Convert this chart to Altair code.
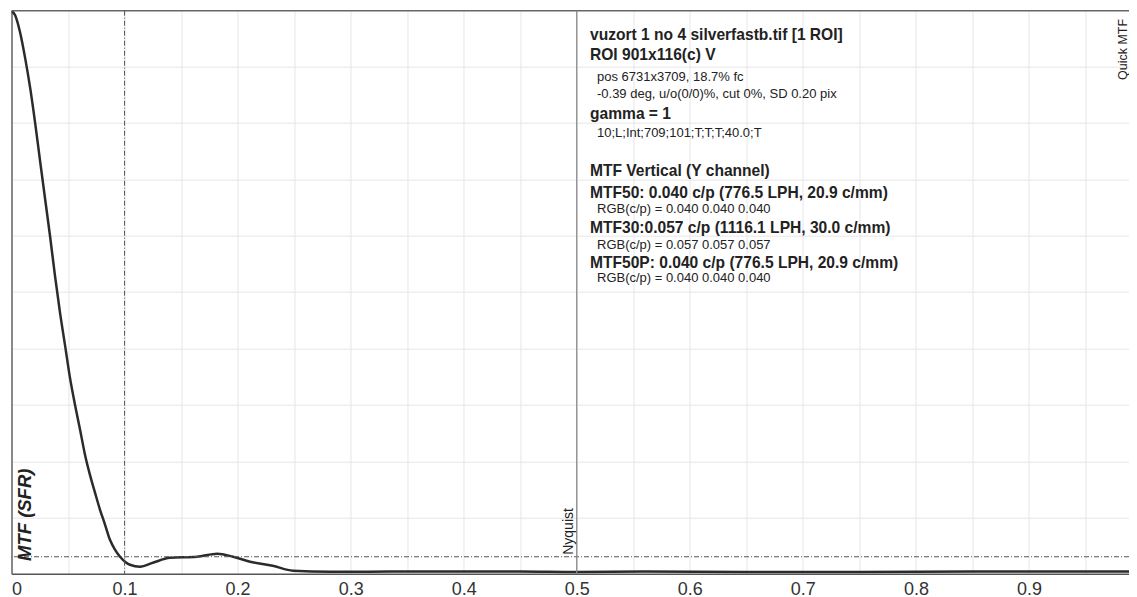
import altair as alt
import pandas as pd

# ---- data ----
freq = [0.0, 0.0031, 0.0075, 0.0119, 0.0164, 0.0208, 0.0252, 0.0296, 0.0341, 0.0385,
        0.0429, 0.0473, 0.0517, 0.0562, 0.0606, 0.0650, 0.0694, 0.0739, 0.0783, 0.0827,
        0.0871, 0.0915, 0.0960, 0.1004, 0.1048, 0.1137, 0.125, 0.140, 0.164, 0.182,
        0.196, 0.211, 0.231, 0.249, 0.282, 0.35, 0.45, 0.5, 0.56, 0.65, 0.75, 0.85, 1.0]
mtf = [1.0, 0.992, 0.961, 0.915, 0.860, 0.796, 0.726, 0.657, 0.587, 0.514,
       0.447, 0.388, 0.328, 0.278, 0.233, 0.187, 0.150, 0.117, 0.086, 0.059,
       0.031, 0.013, 0.0, -0.009, -0.0146, -0.0183, -0.011, -0.002, 0.0, 0.0055,
       0.0, -0.009, -0.0165, -0.0256, -0.0275, -0.027, -0.027, -0.028, -0.027, -0.028,
       -0.028, -0.027, -0.027]

x_grid = [0, 0.05, 0.1, 0.15, 0.2, 0.25, 0.3, 0.35, 0.4, 0.45, 0.5,
          0.55, 0.6, 0.65, 0.7, 0.75, 0.8, 0.85, 0.9, 0.95, 1.0]
y_grid = [0.897, 0.794, 0.691, 0.588, 0.485, 0.381, 0.278, 0.175, 0.072]

info_lines = [
    ("vuzort 1 no 4 silverfastb.tif [1 ROI]", "big"),
    ("ROI 901x116(c) V", "big"),
    ("pos 6731x3709, 18.7% fc", "small"),
    ("-0.39 deg, u/o(0/0)%, cut 0%, SD 0.20 pix", "small"),
    ("gamma = 1", "big"),
    ("10;L;Int;709;101;T;T;T;40.0;T", "small"),
    ("MTF Vertical (Y channel)", "big"),
    ("MTF50: 0.040 c/p (776.5 LPH, 20.9 c/mm)", "big"),
    ("RGB(c/p) = 0.040 0.040 0.040", "small"),
    ("MTF30:0.057 c/p (1116.1 LPH, 30.0 c/mm)", "big"),
    ("RGB(c/p) = 0.057 0.057 0.057", "small"),
    ("MTF50P: 0.040 c/p (776.5 LPH, 20.9 c/mm)", "big"),
    ("RGB(c/p) = 0.040 0.040 0.040", "small"),
]
# vertical centre of each info line (screen px, layout only)
info_y = [35, 55, 77, 94, 114, 133, 171, 193, 209, 228, 245, 263, 278]

# ---- layout ----
# the page body is 1121 px wide: keep the svg within it (no down-scaling);
# the reference's right edge is cut just before frequency 1.0
W, H = 1117.5, 563
X_END = 1117.5 / 1130.5
TOP = 10.7
FONT = "Liberation Sans"

df = pd.DataFrame({"freq": freq, "mtf": mtf})

xs = alt.Scale(domain=[0, X_END], nice=False)
ys = alt.Scale(domain=[-0.031, 1.0], nice=False, zero=False)

base = alt.Chart(df)

curve = base.mark_line(color="#2b2b2b", strokeWidth=2.5, interpolate="monotone", clip=True).encode(
    x=alt.X("freq:Q", scale=xs, axis=alt.Axis(
        values=x_grid, grid=True, gridColor="#e6e6e6", gridWidth=1,
        ticks=False, domain=True, domainColor="#555", domainWidth=1.5,
        labelExpr="(round(datum.value*100) % 10 == 0) ? format(datum.value, '~g') : ''",
        labelFont=FONT, labelFontSize=18, labelColor="#333", labelPadding=6.5,
        title=None, labelFlush=True, labelOverlap=False)),
    y=alt.Y("mtf:Q", scale=ys, axis=alt.Axis(
        values=y_grid, grid=True, gridColor="#e6e6e6", gridWidth=1,
        ticks=False, labels=False, domain=True, domainColor="#666", domainWidth=1.5,
        title=None)),
)

top_border = alt.Chart(pd.DataFrame({"v": [1.0]})).mark_rule(color="#666", strokeWidth=1.5).encode(
    y=alt.Y("v:Q", scale=ys))

zero_line = alt.Chart(pd.DataFrame({"v": [0.0]})).mark_rule(
    color="#555", strokeWidth=1, strokeDash=[5, 2, 1, 2]).encode(y=alt.Y("v:Q", scale=ys))

tenth_line = alt.Chart(pd.DataFrame({"f": [0.1]})).mark_rule(
    color="#555", strokeWidth=1, strokeDash=[5, 2, 1, 2]).encode(x=alt.X("f:Q", scale=xs))

nyq_line = alt.Chart(pd.DataFrame({"f": [0.5]})).mark_rule(
    color="#8a8a8a", strokeWidth=1.3).encode(x=alt.X("f:Q", scale=xs))

nyq_text = alt.Chart(pd.DataFrame({"f": [0.5], "v": [0.0], "t": ["Nyquist"]})).mark_text(
    angle=270, align="left", baseline="alphabetic", dx=2, dy=-3.5,
    font=FONT, fontSize=14, color="#222").encode(
    x=alt.X("f:Q", scale=xs), y=alt.Y("v:Q", scale=ys), text="t:N")

ylabel = alt.Chart(pd.DataFrame({"t": ["MTF (SFR)"]})).mark_text(
    angle=270, align="left", baseline="alphabetic", font=FONT, fontSize=18.5,
    fontWeight="bold", fontStyle="italic", color="#222").encode(
    x=alt.value(19.5), y=alt.value(561 - TOP), text="t:N")

quick = alt.Chart(pd.DataFrame({"t": ["Quick MTF"]})).mark_text(
    angle=270, align="left", baseline="alphabetic", font=FONT, fontSize=12.5,
    color="#222").encode(
    x=alt.value(1116), y=alt.value(80 - TOP), text="t:N")

info_layers = []
for (txt, kind), yy in zip(info_lines, info_y):
    big = kind == "big"
    info_layers.append(
        alt.Chart(pd.DataFrame({"t": [txt]})).mark_text(
            align="left", baseline="middle", font=FONT,
            fontSize=15.6 if big else 13, fontWeight="bold" if big else "normal",
            color="#222").encode(
            x=alt.value(578.5 if big else 585.5), y=alt.value(yy - TOP), text="t:N"))

chart = alt.layer(
    curve, top_border, zero_line, tenth_line, nyq_line, nyq_text, ylabel, quick, *info_layers
).properties(
    width=W, height=H,
    autosize=alt.AutoSizeParams(type="none"),
    padding={"left": 3.5, "top": 2.7, "right": 0, "bottom": 30},
    background="white",
).configure_view(stroke=None)

chart.save("out.html", embed_options={"renderer": "svg", "actions": False})
